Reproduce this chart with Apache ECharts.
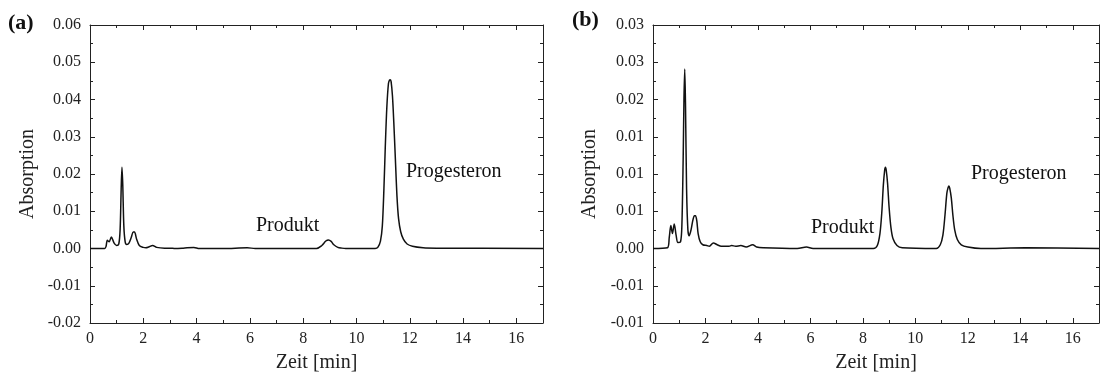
<!DOCTYPE html>
<html>
<head>
<meta charset="utf-8">
<script src="https://cdn.jsdelivr.net/npm/echarts@6/dist/echarts.min.js"></script>
<style>
html,body{margin:0;padding:0;background:#fff;}
#chart{width:1102px;height:378px;}
</style>
</head>
<body>
<div id="chart"></div>
<script>
// ---- Data ----
// Panel (a)
const timeA = [0, 0.55, 0.6, 0.65, 0.72, 0.8, 0.9, 1.0, 1.08, 1.13, 1.17, 1.2, 1.23, 1.27, 1.32, 1.38, 1.45, 1.55, 1.62, 1.67, 1.75, 1.85, 2.0, 2.1, 2.2, 2.35, 2.5, 2.8, 3.0, 3.2, 3.5, 3.9, 4.1, 5.0, 5.9, 6.2, 8.5, 8.7, 8.85, 8.95, 9.05, 9.15, 9.3, 9.45, 9.6, 10.7, 10.8, 10.9, 10.97, 11.03, 11.08, 11.14, 11.2, 11.24, 11.27, 11.3, 11.35, 11.4, 11.46, 11.52, 11.58, 11.66, 11.76, 11.9, 12.1, 12.5, 13.0, 17.0];
const absA  = [0, 0, 0.0005, 0.0022, 0.0018, 0.0031, 0.0015, 0.0008, 0.0012, 0.005, 0.016, 0.0218, 0.017, 0.006, 0.0018, 0.0011, 0.0013, 0.003, 0.0044, 0.0044, 0.0025, 0.0008, 0.0003, 0.0002, 0.0004, 0.0008, 0.0003, 0.0001, 0.0001, 0.0, 0.0001, 0.0003, 0.0, 0.0, 0.0002, 0.0, 0.0, 0.0008, 0.002, 0.0023, 0.0019, 0.001, 0.0003, 0.0001, 0, 0, 0.0003, 0.002, 0.006, 0.016, 0.027, 0.038, 0.0443, 0.0452, 0.0453, 0.0448, 0.041, 0.034, 0.024, 0.014, 0.008, 0.0045, 0.0025, 0.0012, 0.0006, 0.0002, 0.0001, 0];
// Panel (b)
const timeB = [0, 0.55, 0.62, 0.68, 0.74, 0.81, 0.88, 0.95, 1.05, 1.1, 1.15, 1.18, 1.21, 1.24, 1.28, 1.33, 1.38, 1.45, 1.52, 1.58, 1.62, 1.67, 1.72, 1.8, 1.9, 2.05, 2.15, 2.3, 2.45, 2.6, 2.9, 3.0, 3.15, 3.35, 3.55, 3.8, 3.95, 4.2, 5.5, 5.85, 6.1, 8.4, 8.55, 8.65, 8.72, 8.78, 8.83, 8.86, 8.89, 8.94, 9.0, 9.07, 9.15, 9.3, 9.5, 10.8, 10.95, 11.05, 11.13, 11.2, 11.25, 11.28, 11.31, 11.37, 11.43, 11.5, 11.6, 11.75, 12.0, 12.5, 14.2, 17.0];
const absB  = [0, 0.0001, 0.0015, 0.0031, 0.002, 0.0033, 0.0018, 0.0008, 0.0009, 0.003, 0.012, 0.02, 0.0241, 0.019, 0.008, 0.0025, 0.0017, 0.0025, 0.0038, 0.0044, 0.0044, 0.0037, 0.002, 0.0009, 0.0005, 0.0004, 0.0003, 0.00075, 0.0005, 0.0003, 0.0003, 0.0004, 0.0003, 0.0004, 0.0002, 0.0005, 0.0002, 0.0001, 0.0, 0.0002, 0.0, 0, 0.0004, 0.002, 0.0048, 0.0085, 0.0105, 0.0109, 0.0105, 0.0088, 0.0055, 0.0028, 0.0013, 0.0004, 0.0001, 0, 0.0005, 0.0018, 0.0045, 0.0074, 0.0082, 0.0084, 0.0081, 0.0068, 0.0045, 0.0025, 0.0012, 0.0005, 0.0002, 0.0, 0.0001, 0];

// Tick labels
const xTickLabels = ['0','2','4','6','8','10','12','14','16'];
const yTickLabelsA = ['-0.02','-0.01','0.00','0.01','0.02','0.03','0.04','0.05','0.06'];
const yTickLabelsB = ['-0.01','-0.01','0.00','0.01','0.01','0.01','0.02','0.03','0.03'];
const peakLabels = ['Produkt','Progesteron'];
const panelLabels = ['(a)','(b)'];
const xTitle = 'Zeit [min]';
const yTitle = 'Absorption';

// ---- Chart ----
const serif = '"Liberation Serif", "Times New Roman", serif';
const axisCol = '#222';

function xAxes(gi){
  const base = {
    gridIndex: gi, type:'value', min:0, max:17, interval:2,
    axisLine:{show:true, onZero:false, lineStyle:{color:axisCol, width:1}},
    axisTick:{show:true, inside:true, length:5, lineStyle:{color:axisCol}},
    minorTick:{show:true, splitNumber:2, length:3, lineStyle:{color:axisCol}},
    splitLine:{show:false}
  };
  return [
    Object.assign({}, base, {
      position:'bottom',
      axisLabel:{show:true, fontFamily:serif, fontSize:16, color:'#222', margin:8,
        formatter:function(v){ const i=Math.round(v/2); return (Math.abs(v-i*2)<1e-6 && i<xTickLabels.length) ? xTickLabels[i] : ''; }},
      name: xTitle, nameLocation:'middle', nameGap:30,
      nameTextStyle:{fontFamily:serif, fontSize:20, color:'#222'}
    }),
    Object.assign({}, base, {position:'top', axisLabel:{show:false}})
  ];
}
function yAxes(gi, min, max, interval, labels, nameGap){
  const base = {
    gridIndex: gi, type:'value', min:min, max:max, interval:interval,
    axisLine:{show:true, onZero:false, lineStyle:{color:axisCol, width:1}},
    axisTick:{show:true, inside:true, length:5, lineStyle:{color:axisCol}},
    minorTick:{show:true, splitNumber:2, length:3, lineStyle:{color:axisCol}},
    splitLine:{show:false}
  };
  return [
    Object.assign({}, base, {
      position:'left',
      axisLabel:{show:true, fontFamily:serif, fontSize:16, color:'#222', margin:9,
        formatter:function(v){ const i=Math.round((v-min)/interval); return labels[i]!==undefined ? labels[i] : ''; }},
      name: yTitle, nameLocation:'middle', nameGap:nameGap, nameRotate:90,
      nameTextStyle:{fontFamily:serif, fontSize:20, color:'#222'}
    }),
    Object.assign({}, base, {position:'right', axisLabel:{show:false}})
  ];
}

const xs = xAxes(0).concat(xAxes(1));
const ys = yAxes(0, -0.02, 0.06, 0.01, yTickLabelsA, 52).concat(yAxes(1, -0.01, 0.03, 0.005, yTickLabelsB, 53));

function pairs(t, a){ return t.map((x,i)=>[x, a[i]]); }

const lineStyle = {color:'#111', width:1.5};
const option = {
  animation:false,
  backgroundColor:'#fff',
  grid:[
    {left:90, right:559, top:25, bottom:50, containLabel:false},
    {left:653, right:-10, top:25, bottom:49, containLabel:false}
  ],
  xAxis: xs,
  yAxis: ys,
  series:[
    {type:'line', xAxisIndex:0, yAxisIndex:0, data:pairs(timeA, absA), showSymbol:false, smooth:0.3, lineStyle:lineStyle},
    {type:'line', xAxisIndex:2, yAxisIndex:2, data:pairs(timeB, absB), showSymbol:false, smooth:0.3, lineStyle:lineStyle}
  ],
  graphic:[
    {type:'text', left:8, top:12, style:{text:panelLabels[0], font:'bold 22px '+serif, fill:'#111'}},
    {type:'text', left:572, top:9, style:{text:panelLabels[1], font:'bold 22px '+serif, fill:'#111'}},
    {type:'text', left:256, top:216, style:{text:peakLabels[0], font:'20px '+serif, fill:'#111'}},
    {type:'text', left:406, top:162, style:{text:peakLabels[1], font:'20px '+serif, fill:'#111'}},
    {type:'text', left:811, top:218, style:{text:peakLabels[0], font:'20px '+serif, fill:'#111'}},
    {type:'text', left:971, top:164, style:{text:peakLabels[1], font:'20px '+serif, fill:'#111'}}
  ]
};
const chart = echarts.init(document.getElementById('chart'), null, {renderer:'canvas'});
chart.setOption(option);
</script>
</body>
</html>
